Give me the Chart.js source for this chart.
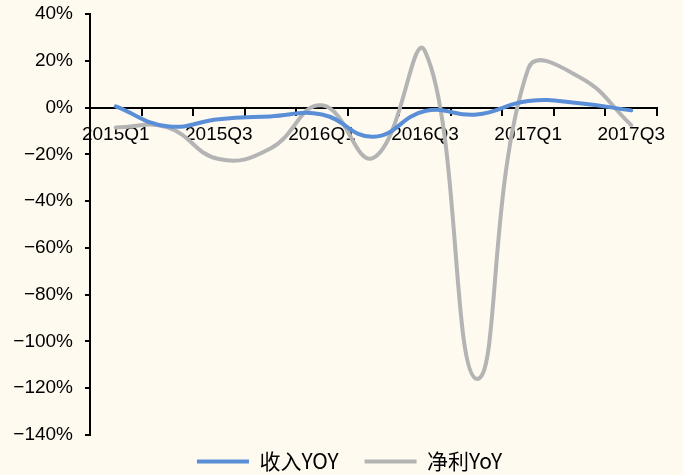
<!DOCTYPE html>
<html>
<head>
<meta charset="utf-8">
<script src="https://cdn.jsdelivr.net/npm/chart.js@4.4.1/dist/chart.umd.min.js"></script>
<style>
  html, body { margin: 0; padding: 0; background: #FEFAF0; }
  #wrap { width: 683px; height: 475px; position: relative; }
</style>
</head>
<body>
<div id="wrap"><canvas id="c" width="683" height="475"></canvas></div>
<script>
// Quarterly periods
const quarters = ['2015Q1', '2015Q2', '2015Q3', '2015Q4', '2016Q1', '2016Q2',
                  '2016Q3', '2016Q4', '2017Q1', '2017Q2', '2017Q3'];
// Revenue growth, year over year (%)
const revenueYoY = [0.5, -8, -5, -3.8, -3, -12.5, -1.5, -3, 2.8, 1.8, -1.2];
// Net profit growth, year over year (%)
const profitYoY = [-8.5, -8.5, -22, -17.5, 1, -21.5, 24, -116, 16.5, 13, -7.5];
// Value axis ticks (%)
const yMin = -140, yMax = 40, yStep = 20;

const seriesNames = ['收入YOY', '净利YoY'];
const seriesColors = ['#5A8ED6', '#B4B4B4'];

const tickFont = { family: '"Liberation Sans", Arial, sans-serif', size: 19 };

new Chart(document.getElementById('c'), {
  type: 'line',
  data: {
    labels: quarters,
    datasets: [
      { label: seriesNames[0], data: revenueYoY, borderColor: seriesColors[0], backgroundColor: seriesColors[0] },
      { label: seriesNames[1], data: profitYoY, borderColor: seriesColors[1], backgroundColor: seriesColors[1] }
    ]
  },
  options: {
    responsive: false,
    animation: false,
    devicePixelRatio: 1,
    layout: { padding: { top: 14, right: 26, bottom: -17, left: 0 } },
    elements: {
      line: { borderWidth: 4, tension: 0.45, borderCapStyle: 'round', fill: false },
      point: { radius: 0, hoverRadius: 0 }
    },
    plugins: {
      tooltip: { enabled: false },
      legend: {
        position: 'bottom',
        labels: {
          boxWidth: 52,
          boxHeight: 4,
          padding: 26,
          color: '#000',
          font: { family: '"Noto Sans CJK SC", sans-serif', size: 21 },
          generateLabels(chart) {
            return chart.data.datasets.map((ds, i) => ({
              text: ds.label,
              fillStyle: ds.borderColor,
              strokeStyle: ds.borderColor,
              lineWidth: 0,
              hidden: false,
              datasetIndex: i
            }));
          }
        }
      }
    },
    scales: {
      x: {
        type: 'category',
        position: { y: 0 },
        offset: true,
        afterFit(scale) { scale.height = 0; },
        border: { display: true, color: '#000', width: 2 },
        grid: { display: true, drawOnChartArea: false, drawTicks: true, tickLength: 7, color: '#000', lineWidth: 2, offset: true },
        ticks: {
          autoSkip: false,
          maxRotation: 0,
          padding: 9,
          color: '#000',
          font: tickFont,
          callback(value, index) { return index % 2 === 0 ? quarters[index] : ''; }
        }
      },
      y: {
        min: yMin,
        max: yMax,
        afterFit(scale) { scale.width = 90; scale.paddingTop = 0; scale.paddingBottom = 0; },
        border: { display: true, color: '#000', width: 2 },
        grid: { display: true, drawOnChartArea: false, drawTicks: true, tickLength: 5, color: '#000', lineWidth: 2 },
        ticks: {
          stepSize: yStep,
          padding: 12,
          color: '#000',
          font: tickFont,
          callback(value) { return (value < 0 ? '\u2212' + Math.abs(value) : value) + '%'; }
        }
      }
    }
  },
  plugins: [{
    id: 'bg',
    beforeDraw(chart) {
      const ctx = chart.ctx;
      ctx.save();
      ctx.fillStyle = '#FEFAF0';
      ctx.fillRect(0, 0, chart.width, chart.height);
      ctx.restore();
    }
  }, {
    // centre the legend row under the plot and lift it a little
    id: 'legendPlacement',
    afterLayout(chart) {
      const lg = chart.legend;
      if (!lg) return;
      lg.left = 42;
      lg.right = 657;
      lg.top -= 10;
      lg.bottom -= 10;
    }
  }]
});
</script>
</body>
</html>
